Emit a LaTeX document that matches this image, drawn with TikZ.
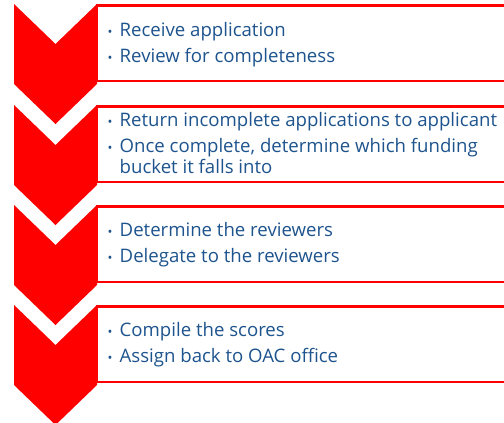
\documentclass[tikz,border=0pt]{standalone}
\usepackage{fontspec}
\setmainfont{Open Sans}
\definecolor{chevred}{RGB}{255,0,0}
\definecolor{txtblue}{RGB}{30,84,142}
\begin{document}
\begin{tikzpicture}[x=1pt,y=-1pt,
  chevron/.style={fill=chevred,draw=none},
  stepboxframe/.style={draw=chevred,line width=2.5pt,fill=white},
  itemtext/.style={anchor=base west,inner sep=0pt,text=txtblue,align=left,font=\fontsize{18.6}{21}\selectfont},
  bulletmark/.style={anchor=base west,inner sep=0pt,text=txtblue,font=\fontsize{13}{13}\selectfont}]
\useasboundingbox (0,0) rectangle (504,423);
\foreach \i/\t in {1/4,2/105,3/205,4/305}{
  \fill[chevron] (14,\t) -- (55.5,\t+40) -- (97,\t) -- (97,\t+80) -- (55.5,\t+120) -- (14,\t+80) -- cycle;
  \draw[stepboxframe] (510,\t+1.5) -- (97,\t+1.5) -- (97,\t+77) -- (510,\t+77);
}
\foreach \n/\y/\s in {a/36/Receive application, b/62/Review for completeness,
  c/126/Return incomplete applications to applicant,
  e/236/Determine the reviewers, f/262/Delegate to the reviewers,
  g/336/Compile the scores, h/362/Assign back to OAC office}{
  \node[bulletmark] (b\n) at (107.5,\y) {•};
  \node[itemtext] (t\n) at (119.5,\y) {\s};
}
\node[bulletmark] (bd) at (107.5,152) {•};
\node[itemtext] (td) at (119.5,173) {Once complete, determine which funding\\bucket it falls into};
\end{tikzpicture}
\end{document}
